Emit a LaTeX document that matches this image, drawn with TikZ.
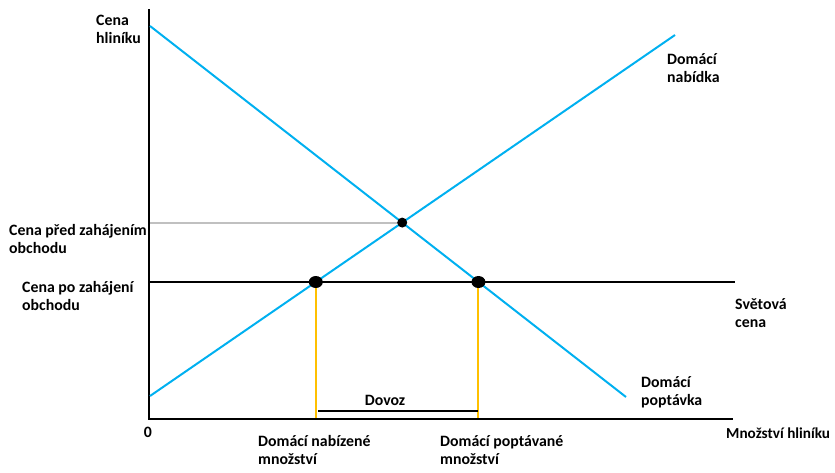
\documentclass[tikz,border=0pt]{standalone}
\usepackage{fontspec}
\setmainfont{Carlito}
\usetikzlibrary{shapes.geometric}
\definecolor{sky}{HTML}{00B0F0}
\definecolor{amber}{HTML}{FFC000}
\definecolor{haze}{HTML}{C0C0C0}

\begin{document}
\begin{tikzpicture}[x=0.03cm,y=-0.03cm,
  font=\fontsize{13.5}{15.3}\selectfont\bfseries,
  lbl/.style={anchor=base west,inner sep=0pt,align=left},
  axis/.style={black,line width=1.7pt},
  curve/.style={sky,line width=1.7pt},
  guide/.style={amber,line width=1.7pt},
  dot/.style={circle,fill=black,inner sep=0pt,minimum size=0.3cm},
  bigdot/.style={ellipse,fill=black,inner sep=0pt,minimum width=0.42cm,minimum height=0.36cm}]
  \useasboundingbox (0,0) rectangle (835,472);

  % axes
  \coordinate (O) at (149,419);
  \coordinate (ytop) at (149,9);
  \coordinate (xend) at (733,419);
  % demand, supply, world price
  \coordinate (d1) at (150,26);  \coordinate (d2) at (626,397);
  \coordinate (s1) at (150,396); \coordinate (s2) at (675,35);
  \coordinate (w1) at (150,282); \coordinate (w2) at (735,282);
  \coordinate (eq) at (intersection of d1--d2 and s1--s2);
  \coordinate (qs) at (intersection of s1--s2 and w1--w2);
  \coordinate (qd) at (intersection of d1--d2 and w1--w2);
  \coordinate (dv1) at (318,411);
  \coordinate (dv2) at (qd |- dv1);

  \draw[haze,line width=1.7pt] (eq) -- (eq -| O);
  \draw[guide] (qs) -- (qs |- O);
  \draw[guide] (qd) -- (qd |- O);
  \draw[axis] (ytop) -- (O) -- (xend);
  \draw[axis] (w1) -- (w2);
  \draw[curve] (d1) -- (d2);
  \draw[curve] (s1) -- (s2);
  \draw[black,line width=1.7pt] (dv1) -- (dv2);

  \node[dot] (eqdot) at (eq) {};
  \node[bigdot] (qsdot) at (qs) {};
  \node[bigdot] (qddot) at (qd) {};

  % labels (base = baseline of the last line)
  \node[lbl] (ylab) at (96,43) {Cena\\hliníku};
  \node[lbl] (pbefore) at (9,253) {Cena před zahájením\\obchodu};
  \node[lbl] (pafter) at (22,310) {Cena po zahájení\\obchodu};
  \node[lbl] (supply) at (667,82) {Domácí\\nabídka};
  \node[lbl] (world) at (735,327) {Světová\\cena};
  \node[lbl] (demand) at (641,405) {Domácí\\poptávka};
  \node[lbl,font=\fontsize{13}{15.3}\selectfont\bfseries] (xlab) at (726,438) {Množství hliníku};
  \node[lbl] (qslab) at (258,464) {Domácí nabízené\\množství};
  \node[lbl] (qdlab) at (440,464) {Domácí poptávané\\množství};
  \node[anchor=base,inner sep=0pt] (zero) at (148,437) {0};
  \node[anchor=base,inner sep=0pt] (dovoz) at (385,405) {Dovoz};
\end{tikzpicture}
\end{document}
